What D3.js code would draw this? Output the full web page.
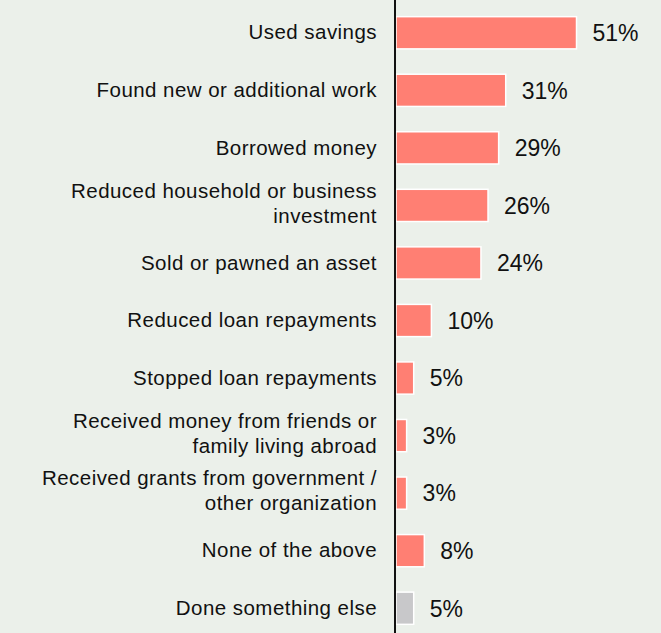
<!DOCTYPE html>
<html>
<head>
<meta charset="utf-8">
<script src="https://cdn.jsdelivr.net/npm/d3@7"></script>
<style>
  html, body { margin: 0; padding: 0; background: #ebf0ea; }
  svg { display: block; }
  text { font-family: "Liberation Sans", Arial, Helvetica, sans-serif; fill: #111; }
</style>
</head>
<body>
<svg id="chart" width="661" height="633"></svg>
<script>
// Responses: what households did to cope
const categories = [
  ["Used savings"],
  ["Found new or additional work"],
  ["Borrowed money"],
  ["Reduced household or business", "investment"],
  ["Sold or pawned an asset"],
  ["Reduced loan repayments"],
  ["Stopped loan repayments"],
  ["Received money from friends or", "family living abroad"],
  ["Received grants from government /", "other organization"],
  ["None of the above"],
  ["Done something else"]
];
const values = [51, 31, 29, 26, 24, 10, 5, 3, 3, 8, 5];
const valueLabels = ["51%", "31%", "29%", "26%", "24%", "10%", "5%", "3%", "3%", "8%", "5%"];
const isOther = [false, false, false, false, false, false, false, false, false, false, true];

const W = 661, H = 633;
const axisX = 395;

const svg = d3.select("#chart");

const y = d3.scaleBand()
  .domain(d3.range(categories.length))
  .range([4, 637])
  .paddingInner(0.44)
  .paddingOuter(0.22);

const x = d3.scaleLinear()
  .domain([0, 51])
  .range([396, 576.5]);

const rows = svg.append("g").selectAll("g")
  .data(values.map((v, i) => ({ v, i })))
  .join("g");

// bars
rows.append("rect")
  .attr("x", x(0))
  .attr("y", d => y(d.i))
  .attr("width", d => x(d.v) - x(0))
  .attr("height", y.bandwidth())
  .attr("fill", d => isOther[d.i] ? "#c8c8ca" : "#ff7f73")
  .attr("stroke", "#ffffff")
  .attr("stroke-width", 1.5);

// value labels
rows.append("text")
  .attr("x", d => x(d.v) + 16)
  .attr("y", d => y(d.i) + y.bandwidth() / 2)
  .attr("dy", "0.36em")
  .attr("font-size", 23)
  .text(d => valueLabels[d.i]);

// category labels, right-aligned against the axis
const lineH = 25;
rows.append("text")
  .attr("text-anchor", "end")
  .attr("font-size", 20.5)
  .attr("letter-spacing", 0.45)
  .each(function(d) {
    const lines = categories[d.i];
    const cy = y(d.i) + y.bandwidth() / 2 - (lines.length > 1 ? 2.5 : 0.5);
    const t = d3.select(this);
    lines.forEach((ln, k) => {
      t.append("tspan")
        .attr("x", axisX - 18)
        .attr("y", cy + (k - (lines.length - 1) / 2) * lineH)
        .attr("dy", "0.35em")
        .text(ln);
    });
  });

// vertical baseline
svg.append("line")
  .attr("x1", axisX).attr("x2", axisX)
  .attr("y1", 0).attr("y2", H)
  .attr("stroke", "#111")
  .attr("stroke-width", 2);
</script>
</body>
</html>
